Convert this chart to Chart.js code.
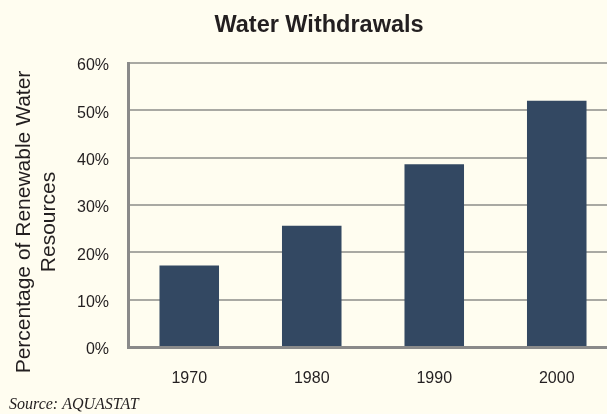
<!DOCTYPE html>
<html>
<head>
<meta charset="utf-8">
<script src="https://cdn.jsdelivr.net/npm/chart.js@4"></script>
<style>
    html, body { margin: 0; padding: 0; background: #fffdf0; overflow: hidden; }
    #wrap { position: relative; width: 618px; height: 414px; }
</style>
</head>
<body>
<div id="wrap"><canvas id="chart"></canvas></div>
<script>
const years = ['1970', '1980', '1990', '2000'];
const withdrawals = [17.2, 25.6, 38.6, 52.0];
const yTicks = [0, 10, 20, 30, 40, 50, 60];
const chartTitle = 'Water Withdrawals';
const yTitle = ['Percentage of Renewable Water', 'Resources'];
const sourceNote = 'Source: AQUASTAT';

const sans = '"Liberation Sans", Arial, sans-serif';

// titles and the source line are drawn by hand so they sit where the original has them
const textPlugin = {
    id: 'texts',
    afterDraw(chart) {
        const ctx = chart.ctx;
        ctx.save();
        ctx.fillStyle = '#231f20';
        ctx.textAlign = 'center';
        ctx.textBaseline = 'alphabetic';
        ctx.font = 'bold 23.5px ' + sans;
        ctx.fillText(chartTitle, 319, 32);

        ctx.save();
        ctx.translate(0, 222);
        ctx.rotate(-Math.PI / 2);
        ctx.font = '21px ' + sans;
        ctx.fillText(yTitle[0], 0, 30);
        ctx.fillText(yTitle[1], 0, 55);
        ctx.restore();

        ctx.textAlign = 'left';
        ctx.font = 'italic 16px "Liberation Serif", "Times New Roman", serif';
        ctx.fillText(sourceNote, 9, 409);
        ctx.restore();
    }
};

new Chart(document.getElementById('chart'), {
    type: 'bar',
    data: {
        labels: years,
        datasets: [{
            data: withdrawals,
            backgroundColor: '#334862',
            barPercentage: 0.486,
            categoryPercentage: 1
        }]
    },
    options: {
        responsive: true,
        maintainAspectRatio: false,
        animation: false,
        layout: { padding: { top: 63 } },
        plugins: {
            legend: { display: false },
            title: { display: false },
            tooltip: { enabled: false }
        },
        scales: {
            x: {
                grid: { display: false },
                border: { color: '#8a8a8a', width: 3 },
                ticks: { color: '#231f20', padding: 14, font: { family: sans, size: 16 } },
                afterFit(scale) { scale.height = 67; }
            },
            y: {
                min: 0,
                max: 60,
                afterBuildTicks(scale) { scale.ticks = yTicks.map(v => ({ value: v })); },
                grid: { color: '#a9a9a3', lineWidth: 2, drawTicks: false },
                border: { color: '#8a8a8a', width: 3 },
                ticks: {
                    color: '#231f20',
                    padding: 19,
                    labelOffset: 3,
                    font: { family: sans, size: 16 },
                    callback: v => v + '%'
                },
                afterFit(scale) { scale.width = 128; }
            }
        }
    },
    plugins: [textPlugin]
});
</script>
</body>
</html>
